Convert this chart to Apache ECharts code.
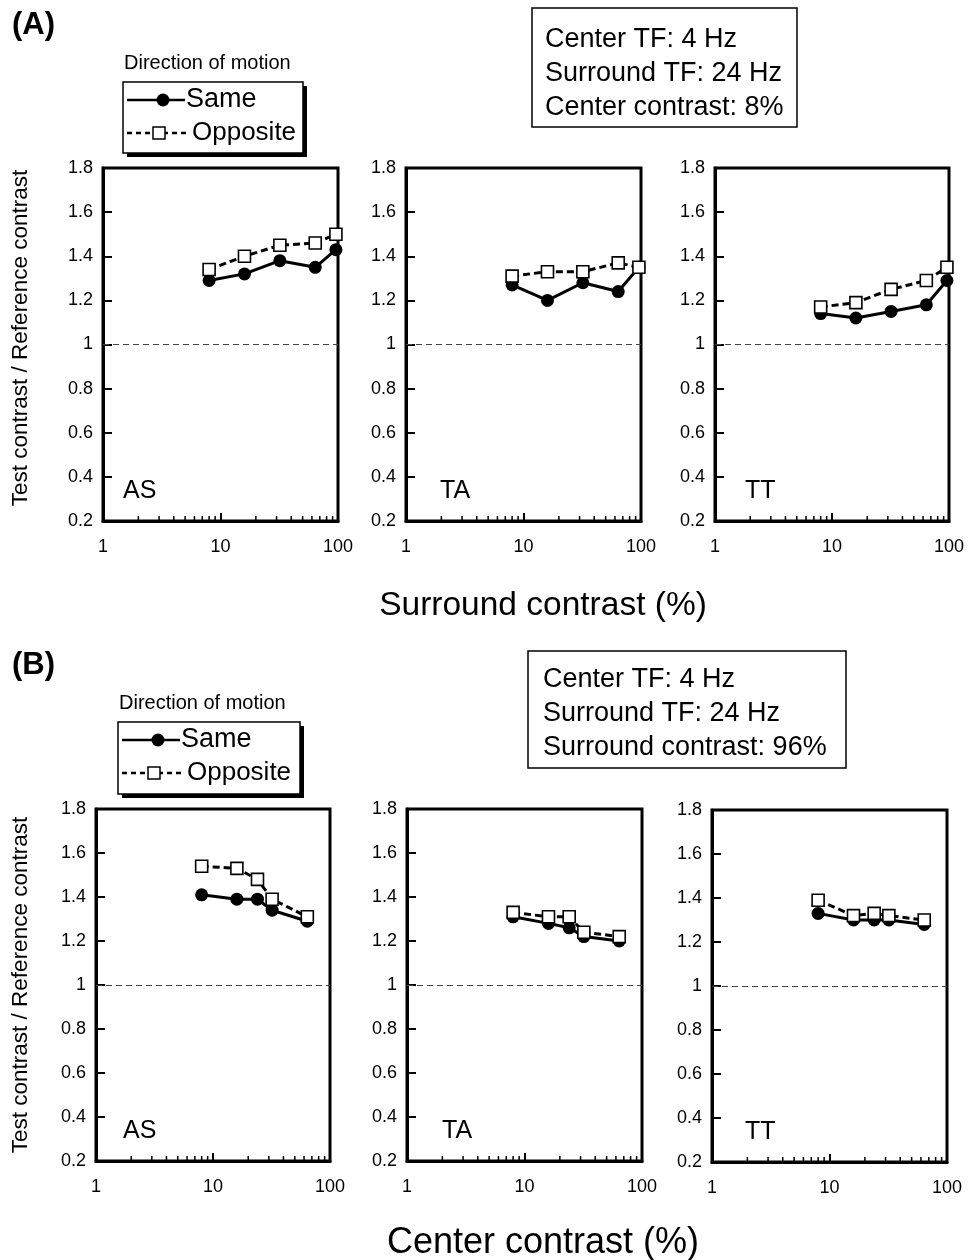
<!DOCTYPE html>
<html>
<head>
<meta charset="utf-8">
<script src="https://cdn.jsdelivr.net/npm/echarts@6/dist/echarts.min.js"></script>
<style>
html,body{margin:0;padding:0;background:#fff;}
#c{width:968px;height:1260px;}
</style>
</head>
<body>
<div id="c"></div>
<script>
// ---- Data ----
const panelNames = ['AS', 'TA', 'TT'];
const xTicksMinor = [2, 3, 4, 5, 6, 7, 8, 9, 20, 30, 40, 50, 60, 70, 80, 90];
const yTicks = [0.2, 0.4, 0.6, 0.8, 1, 1.2, 1.4, 1.6, 1.8];

// (A) Surround contrast (%) on x
const xA = [8, 16, 32, 64, 96];
const A_AS_same = [1.29, 1.32, 1.38, 1.35, 1.43];
const A_AS_opp  = [1.34, 1.40, 1.45, 1.46, 1.50];
const A_TA_same = [1.27, 1.20, 1.28, 1.24, 1.35];
const A_TA_opp  = [1.31, 1.33, 1.33, 1.37, 1.35];
const A_TT_same = [1.14, 1.12, 1.15, 1.18, 1.29];
const A_TT_opp  = [1.17, 1.19, 1.25, 1.29, 1.35];

// (B) Center contrast (%) on x
const xB = [8, 16, 24, 32, 64];
const B_AS_same = [1.41, 1.39, 1.39, 1.34, 1.29];
const B_AS_opp  = [1.54, 1.53, 1.48, 1.39, 1.31];
const B_TA_same = [1.31, 1.28, 1.26, 1.22, 1.20];
const B_TA_opp  = [1.33, 1.31, 1.31, 1.24, 1.22];
const B_TT_same = [1.33, 1.30, 1.30, 1.30, 1.28];
const B_TT_opp  = [1.39, 1.32, 1.33, 1.32, 1.30];

const infoA = ['Center TF: 4 Hz', 'Surround TF: 24 Hz', 'Center contrast: 8%'];
const infoB = ['Center TF: 4 Hz', 'Surround TF: 24 Hz', 'Surround contrast: 96%'];

// ---- Layout ----
const FONT = '"Liberation Sans", Arial, Helvetica, sans-serif';
const grids = [
  {left: 103, top: 168, width: 235, height: 353},
  {left: 406, top: 168, width: 235, height: 353},
  {left: 715, top: 168, width: 234, height: 353},
  {left: 96,  top: 809, width: 234, height: 352},
  {left: 407, top: 809, width: 235, height: 352},
  {left: 712, top: 810, width: 235, height: 352}
];
const panelData = [
  [xA, A_AS_same, A_AS_opp], [xA, A_TA_same, A_TA_opp], [xA, A_TT_same, A_TT_opp],
  [xB, B_AS_same, B_AS_opp], [xB, B_TA_same, B_TA_opp], [xB, B_TT_same, B_TT_opp]
];
const labelOffsets = [20, 34, 30, 27, 35, 33];

const chart = echarts.init(document.getElementById('c'), null, {renderer: 'canvas'});

const gridOpts = [], xAxes = [], yAxes = [], series = [], graphics = [];

grids.forEach((g, i) => {
  gridOpts.push({left: g.left, top: g.top, width: g.width, height: g.height,
    show: true, borderColor: '#000', borderWidth: 3, backgroundColor: 'transparent'});
  xAxes.push({
    type: 'log', logBase: 10, min: 1, max: 100, gridIndex: i,
    axisLine: {show: true, lineStyle: {color: '#000', width: 3}},
    axisTick: {show: true, inside: true, length: 8, lineStyle: {color: '#000', width: 2}},
    axisLabel: {show: true, color: '#000', fontSize: 18, fontFamily: FONT, margin: 17},
    splitLine: {show: false}
  });
  yAxes.push({
    type: 'value', min: 0.2, max: 1.8, interval: 0.2, gridIndex: i,
    axisLine: {show: true, lineStyle: {color: '#000', width: 3}},
    axisTick: {show: true, inside: true, length: 9, lineStyle: {color: '#000', width: 2}},
    axisLabel: {show: true, color: '#000', fontSize: 18, fontFamily: FONT, margin: 10,
      formatter: v => String(Math.round(v * 10) / 10)},
    splitLine: {show: false}
  });
  const [xs, same, opp] = panelData[i];
  // minor log ticks drawn via the axis scale
  series.push({
    type: 'custom', xAxisIndex: i, yAxisIndex: i, silent: true, z: 5,
    data: xTicksMinor.map(v => [v, 0.2]),
    encode: {x: 0, y: 1},
    renderItem: (params, api) => {
      const p = api.coord([api.value(0), api.value(1)]);
      return {type: 'line', shape: {x1: p[0], y1: p[1], x2: p[0], y2: p[1] - 5},
        style: {stroke: '#000', lineWidth: 1.5}};
    }
  });
  series.push({
    type: 'line', name: 'Same', xAxisIndex: i, yAxisIndex: i, z: 3,
    data: xs.map((x, k) => [x, same[k]]),
    symbol: 'circle', symbolSize: 13,
    itemStyle: {color: '#000'},
    lineStyle: {color: '#000', width: 3},
    markLine: {
      silent: true, symbol: 'none', label: {show: false},
      lineStyle: {color: '#444', width: 1, type: [6, 4]},
      data: [{yAxis: 1}]
    }
  });
  series.push({
    type: 'line', name: 'Opposite', xAxisIndex: i, yAxisIndex: i, z: 4,
    data: xs.map((x, k) => [x, opp[k]]),
    symbol: 'rect', symbolSize: 12,
    itemStyle: {color: '#fff', borderColor: '#000', borderWidth: 1.6},
    lineStyle: {color: '#000', width: 3, type: [7, 4]}
  });
  graphics.push({
    type: 'text', left: g.left + labelOffsets[i], top: g.top + g.height - 42,
    style: {text: panelNames[i % 3], font: '25px ' + FONT, fill: '#000'}
  });
});

function legendBlock(bx, by, bw, bh) {
  const items = [];
  items.push({type: 'text', x: bx + 1, y: by - 19,
    style: {text: 'Direction of motion', font: '20px ' + FONT, fill: '#000', textVerticalAlign: 'middle'}});
  items.push({type: 'rect', shape: {x: bx + 4, y: by + 4, width: bw, height: bh}, style: {fill: '#000'}});
  items.push({type: 'rect', shape: {x: bx, y: by, width: bw, height: bh},
    style: {fill: '#fff', stroke: '#000', lineWidth: 1.5}});
  const y1 = by + 18, y2 = by + 51;
  items.push({type: 'line', shape: {x1: bx + 4, y1: y1, x2: bx + 62, y2: y1}, style: {stroke: '#000', lineWidth: 2.5}});
  items.push({type: 'circle', shape: {cx: bx + 40, cy: y1, r: 6.5}, style: {fill: '#000'}});
  items.push({type: 'text', x: bx + 63, y: y1,
    style: {text: 'Same', font: '27px ' + FONT, fill: '#000', textVerticalAlign: 'middle'}});
  items.push({type: 'line', shape: {x1: bx + 4, y1: y2, x2: bx + 66, y2: y2},
    style: {stroke: '#000', lineWidth: 2.5, lineDash: [5, 4]}});
  items.push({type: 'rect', shape: {x: bx + 30, y: y2 - 6, width: 12, height: 12},
    style: {fill: '#fff', stroke: '#000', lineWidth: 1.5}, z: 101});
  items.push({type: 'text', x: bx + 69, y: y2,
    style: {text: 'Opposite', font: '26px ' + FONT, fill: '#000', textVerticalAlign: 'middle'}});
  return items;
}

function infoBox(lines, bx, by, bw, bh, tx, ty0) {
  const items = [{type: 'rect', shape: {x: bx, y: by, width: bw, height: bh},
    style: {fill: '#fff', stroke: '#000', lineWidth: 1.5}}];
  lines.forEach((t, k) => items.push({type: 'text', x: tx, y: ty0 + k * 34,
    style: {text: t, font: '27px ' + FONT, fill: '#000', textVerticalAlign: 'middle'}}));
  return items;
}

graphics.push(
  {type: 'text', x: 12, y: 25, style: {text: '(A)', font: 'bold 31px ' + FONT, fill: '#000', textVerticalAlign: 'middle'}},
  {type: 'text', x: 12, y: 665, style: {text: '(B)', font: 'bold 31px ' + FONT, fill: '#000', textVerticalAlign: 'middle'}},
  ...legendBlock(123, 82, 180, 71),
  ...legendBlock(118, 722, 182, 72),
  ...infoBox(infoA, 532, 8, 265, 119, 545, 40),
  ...infoBox(infoB, 528, 651, 318, 117, 543, 680),
  {type: 'text', x: 21, y: 338, rotation: Math.PI / 2,
    style: {text: 'Test contrast / Reference contrast', font: '22.5px ' + FONT, fill: '#000',
      textAlign: 'center', textVerticalAlign: 'middle'}},
  {type: 'text', x: 21, y: 985, rotation: Math.PI / 2,
    style: {text: 'Test contrast / Reference contrast', font: '22.5px ' + FONT, fill: '#000',
      textAlign: 'center', textVerticalAlign: 'middle'}},
  {type: 'text', x: 543, y: 606,
    style: {text: 'Surround contrast (%)', font: '33.5px ' + FONT, fill: '#000', textAlign: 'center', textVerticalAlign: 'middle'}},
  {type: 'text', x: 543, y: 1243,
    style: {text: 'Center contrast (%)', font: '36px ' + FONT, fill: '#000', textAlign: 'center', textVerticalAlign: 'middle'}}
);

chart.setOption({
  animation: false,
  backgroundColor: '#fff',
  grid: gridOpts,
  xAxis: xAxes,
  yAxis: yAxes,
  series: series,
  graphic: graphics
});
</script>
</body>
</html>
